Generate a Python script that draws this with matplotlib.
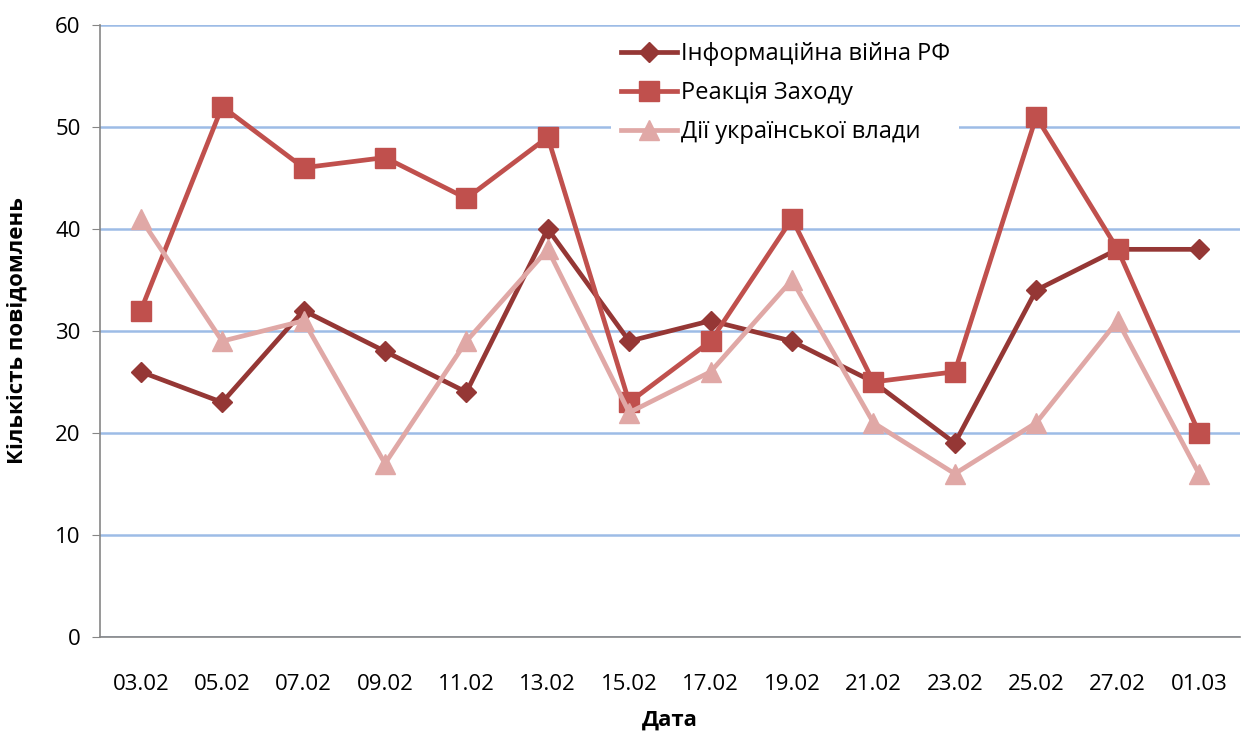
import matplotlib
matplotlib.use('Agg')
import matplotlib.pyplot as plt

plt.rcParams['font.family'] = ['Open Sans', 'DejaVu Sans']

dates = ['03.02', '05.02', '07.02', '09.02', '11.02', '13.02', '15.02',
         '17.02', '19.02', '21.02', '23.02', '25.02', '27.02', '01.03']
rf_war = [26, 23, 32, 28, 24, 40, 29, 31, 29, 25, 19, 34, 38, 38]
west = [32, 52, 46, 47, 43, 49, 23, 29, 41, 25, 26, 51, 38, 20]
ua_gov = [41, 29, 31, 17, 29, 38, 22, 26, 35, 21, 16, 21, 31, 16]
labels = ['Інформаційна війна РФ', 'Реакція Заходу', 'Дії української влади']

fig = plt.figure(figsize=(12.51, 7.33), dpi=100)
ax = fig.add_axes([0.08, 0.131, 0.911, 0.835])

x = range(len(dates))
ax.plot(x, rf_war, color='#953735', lw=3.4, marker='D', ms=10,
        label=labels[0], zorder=3)
ax.plot(x, west, color='#C0504D', lw=3.4, marker='s', ms=14,
        label=labels[1], zorder=4)
ax.plot(x, ua_gov, color='#E0A8A6', lw=3.4, marker='^', ms=14,
        label=labels[2], zorder=5)

ax.set_xlim(-0.5, len(dates) - 0.5)
ax.set_ylim(0, 60)
ax.set_yticks(range(0, 61, 10))
ax.set_xticks(list(x))
ax.set_xticklabels(dates)
ax.yaxis.grid(True, color='#9DBCE6', lw=1.8)
ax.set_axisbelow(True)

for s in ['top', 'right']:
    ax.spines[s].set_visible(False)
for s in ['left', 'bottom']:
    ax.spines[s].set_color('#868686')
    ax.spines[s].set_linewidth(1.2)
ax.tick_params(axis='y', colors='#868686', labelcolor='black', length=6,
               labelsize=16, pad=8)
ax.tick_params(axis='x', length=0, labelsize=16, pad=27)

ax.set_ylabel('Кількість повідомлень', fontsize=16, fontweight='bold',
              labelpad=20)
ax.set_xlabel('Дата', fontsize=16, fontweight='bold', labelpad=10)

leg = ax.legend(loc='upper left', bbox_to_anchor=(0.438, 1.006), frameon=True,
                fontsize=17, handlelength=2.4, handletextpad=0.15,
                labelspacing=0.62, borderpad=0.4)
leg.get_frame().set_edgecolor('none')
leg.get_frame().set_facecolor('white')
leg.get_frame().set_alpha(1)

fig.savefig('out.png', dpi=100)
